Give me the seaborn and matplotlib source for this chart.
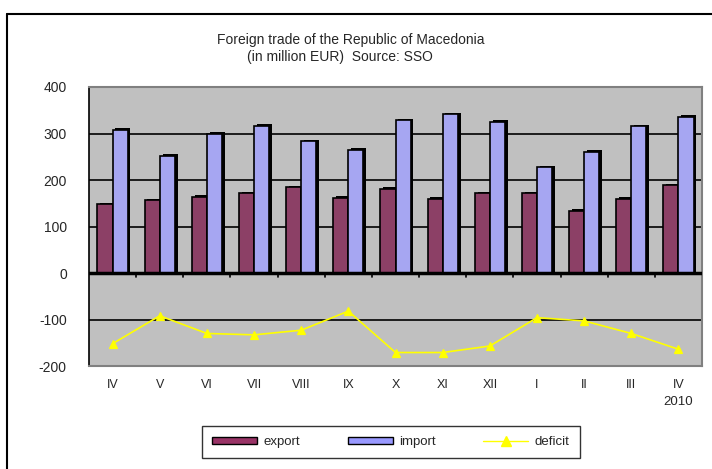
import numpy as np
import pandas as pd
import seaborn as sns
import matplotlib.pyplot as plt
import matplotlib.patheffects as pe
from matplotlib.lines import Line2D

# months, Apr 2009 .. Apr 2010
months = ["IV", "V", "VI", "VII", "VIII", "IX", "X", "XI", "XII", "I", "II", "III", "IV"]
keys = ["IV-09", "V", "VI", "VII", "VIII", "IX", "X", "XI", "XII", "I", "II", "III", "IV-10"]
export = [148, 156, 164, 171, 184, 162, 181, 160, 171, 171, 134, 160, 189]
imports = [308, 252, 300, 317, 283, 265, 328, 341, 325, 228, 261, 316, 336]
deficit = [-152, -92, -130, -133, -123, -82, -171, -171, -157, -96, -103, -130, -164]

sns.set_style("white")
plt.rcParams['font.family'] = ['Liberation Sans', 'DejaVu Sans']

bars = pd.DataFrame({
    "month": keys * 2,
    "value": export + imports,
    "series": ["export"] * len(keys) + ["import"] * len(keys),
})
line = pd.DataFrame({"month": keys, "deficit": deficit})

fig = plt.figure(figsize=(7.12, 4.69), dpi=100)
ax = fig.add_axes([0.125, 0.2196, 0.861, 0.5949])
ax.set_facecolor("#C0C0C0")

# grid lines
for v in [-100, 100, 200, 300]:
    ax.axhline(v, color="black", lw=1.2, zorder=0.5)

sns.barplot(data=bars, x="month", y="value", hue="series", order=keys,
            palette={"export": "#993366", "import": "#9999FF"},
            edgecolor="black", linewidth=1.2, width=0.64, ax=ax, legend=False,
            zorder=2)
for p in ax.patches:
    p.set_path_effects([pe.SimplePatchShadow(offset=(2, 1), shadow_rgbFace="black", alpha=1),
                        pe.Normal()])

sns.pointplot(data=line, x="month", y="deficit", order=keys, color="#FFFF00",
              markers="^", markersize=6, linewidth=1.2, ax=ax, zorder=4)

ax.axhline(0, color="black", lw=2.5, zorder=3)

ax.set_ylim(-200, 400)
ax.set_xlim(-0.5, len(keys) - 0.5)
ax.set_yticks(np.arange(-200, 401, 100))
ax.set_yticklabels([str(v) for v in range(-200, 401, 100)], fontsize=10)
ax.tick_params(axis="y", length=6, width=1.2, color="black", direction="out", pad=10)
ax.set_xticks(range(len(keys)))
ax.set_xticklabels(months, fontsize=9)
ax.tick_params(axis="x", length=0, pad=9)
ax.set_xlabel("")
ax.set_ylabel("")

# minor ticks between categories along the zero line
for i in range(1, len(keys)):
    ax.plot([i - 0.5, i - 0.5], [0, -9], color="black", lw=1.2, zorder=3)

for s in ["top", "right", "bottom"]:
    ax.spines[s].set_color("#808080")
    ax.spines[s].set_linewidth(1.5)
ax.spines["left"].set_color("black")
ax.spines["left"].set_linewidth(1.2)

ax.text(len(keys) - 1, -0.107, "2010", transform=ax.get_xaxis_transform(),
        ha="center", va="top", fontsize=9.5)

fig.text(0.493, 0.915, "Foreign trade of the Republic of Macedonia",
         ha="center", va="center", fontsize=10)
fig.text(0.478, 0.878, "(in million EUR)  Source: SSO",
         ha="center", va="center", fontsize=10)

handles = [
    plt.Rectangle((0, 0), 1, 1, facecolor="#993366", edgecolor="black"),
    plt.Rectangle((0, 0), 1, 1, facecolor="#9999FF", edgecolor="black"),
    Line2D([], [], color="#FFFF00", marker="^", markersize=7, lw=1),
]
leg = fig.legend(handles, ["export", "import", "deficit"], loc="center",
                 bbox_to_anchor=(0.549, 0.057), ncol=3, frameon=True,
                 fancybox=False, edgecolor="black", fontsize=9.5,
                 handlelength=3.4, handleheight=0.5, columnspacing=3.6,
                 borderpad=0.75, handletextpad=0.5)
leg.get_frame().set_linewidth(1)

# outer chart border (top and left)
fig.add_artist(Line2D([0.0105, 1.0], [0.970, 0.970], color="black", lw=1.5,
                      transform=fig.transFigure))
fig.add_artist(Line2D([0.0105, 0.0105], [0.0, 0.970], color="black", lw=1.5,
                      transform=fig.transFigure))

fig.savefig("out.png", dpi=100)
